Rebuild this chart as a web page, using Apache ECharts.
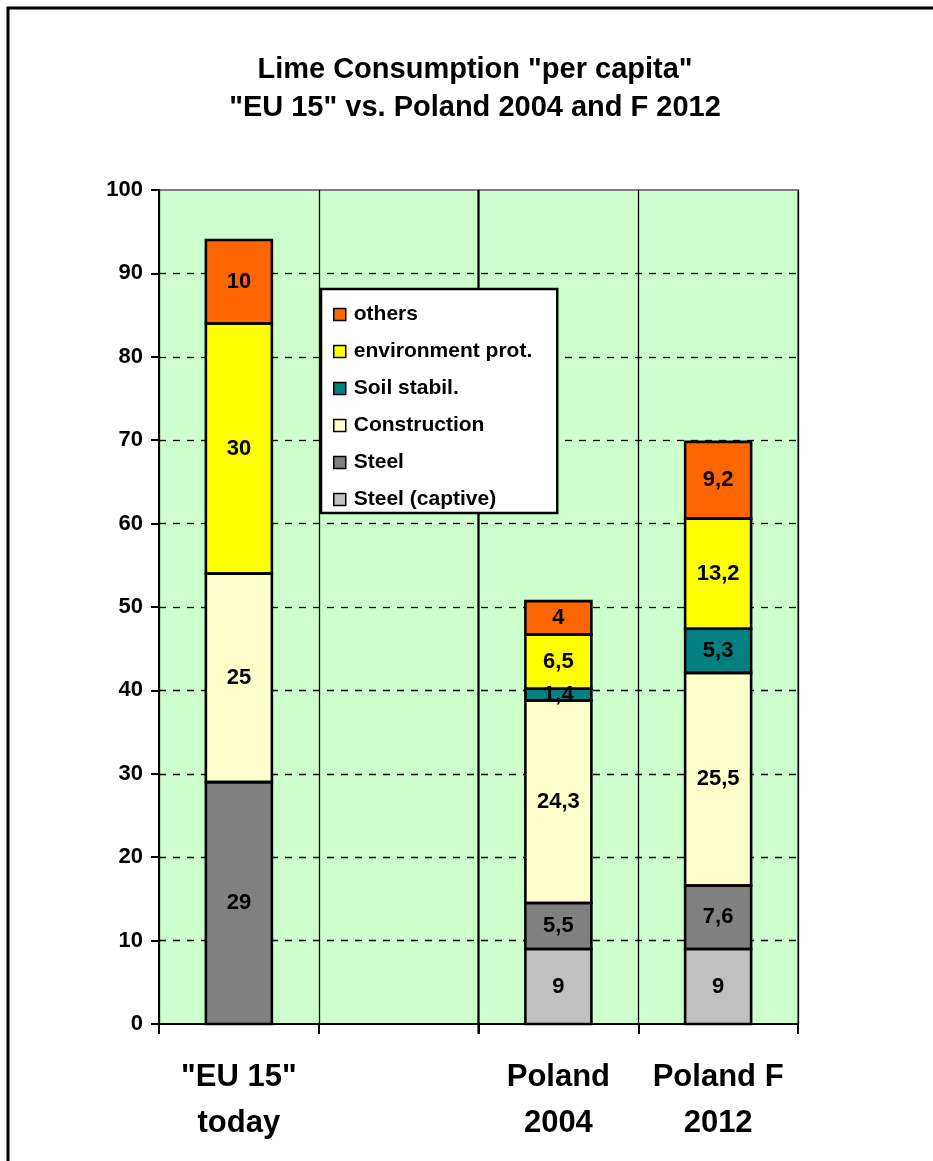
<!DOCTYPE html>
<html>
<head>
<meta charset="utf-8">
<script src="https://cdn.jsdelivr.net/npm/echarts@6/dist/echarts.min.js"></script>
<style>
  html, body { margin: 0; padding: 0; background: #ffffff; }
  #chart { width: 933px; height: 1161px; }
</style>
</head>
<body>
<div id="chart"></div>
<script>
// Categories along the x axis (the second slot is intentionally empty)
const categories = ['"EU 15"\ntoday', '', 'Poland\n2004', 'Poland F\n2012'];

// Lime consumption per capita, by use, stacked bottom to top
const steelCaptive  = [null, null, 9, 9];
const steel         = [29, null, 5.5, 7.6];
const construction  = [25, null, 24.3, 25.5];
const soilStabil    = [null, null, 1.4, 5.3];
const envProt       = [30, null, 6.5, 13.2];
const others        = [10, null, 4, 9.2];

const yTicks = [0, 10, 20, 30, 40, 50, 60, 70, 80, 90, 100];

const FONT = '"Liberation Sans", Arial, sans-serif';
const BAR_WIDTH = 66;

const seriesDefs = [
  { name: 'Steel (captive)',    data: steelCaptive, color: '#C0C0C0' },
  { name: 'Steel',              data: steel,        color: '#808080' },
  { name: 'Construction',       data: construction, color: '#FFFFCC' },
  { name: 'Soil stabil.',       data: soilStabil,   color: '#008080' },
  { name: 'environment prot.',  data: envProt,      color: '#FFFF00' },
  { name: 'others',             data: others,       color: '#FF6600' }
];

// Segment extents [category, from, to] for the shared black outlines,
// so neighbouring segments share a single border line.
const segments = [];
categories.forEach((_, ci) => {
  let base = 0;
  seriesDefs.forEach(s => {
    const v = s.data[ci];
    if (v != null) {
      segments.push([ci, base, base + v]);
      base += v;
    }
  });
});

const chart = echarts.init(document.getElementById('chart'), null, { renderer: 'canvas' });

const barSeries = seriesDefs.map(s => ({
  name: s.name,
  type: 'bar',
  stack: 'total',
  barWidth: BAR_WIDTH,
  data: s.data,
  itemStyle: { color: s.color, borderWidth: 0 },
  label: {
    show: true,
    position: 'inside',
    fontFamily: FONT,
    fontWeight: 'bold',
    fontSize: 22,
    color: '#000',
    formatter: p => (p.value == null ? '' : String(p.value).replace('.', ','))
  },
  z: 3
}));

const outlineSeries = {
  name: 'outline',
  type: 'custom',
  data: segments,
  encode: { x: 0, y: [1, 2] },
  silent: true,
  z: 4,
  renderItem: (params, api) => {
    const p0 = api.coord([api.value(0), api.value(1)]);
    const p1 = api.coord([api.value(0), api.value(2)]);
    return {
      type: 'rect',
      shape: {
        x: p0[0] - BAR_WIDTH / 2,
        y: p1[1],
        width: BAR_WIDTH,
        height: p0[1] - p1[1]
      },
      style: { fill: 'none', stroke: '#000', lineWidth: 2.6 }
    };
  }
};

chart.setOption({
  backgroundColor: '#ffffff',
  animation: false,
  title: {
    text: 'Lime Consumption "per capita"\n"EU 15" vs. Poland 2004 and F 2012',
    left: 470,
    top: 46,
    textAlign: 'center',
    textStyle: {
      fontFamily: FONT,
      fontWeight: 'bold',
      fontSize: 29,
      lineHeight: 38,
      color: '#000'
    }
  },
  legend: {
    data: ['others', 'environment prot.', 'Soil stabil.', 'Construction', 'Steel', 'Steel (captive)'],
    orient: 'vertical',
    left: 321,
    top: 289,
    backgroundColor: '#ffffff',
    borderColor: '#000',
    borderWidth: 2.5,
    padding: [15, 25, 3, 12],
    itemWidth: 12,
    itemHeight: 12,
    itemGap: 16,
    icon: 'rect',
    itemStyle: { borderColor: '#000', borderWidth: 1.5 },
    textStyle: {
      fontFamily: FONT,
      fontWeight: 'bold',
      fontSize: 21,
      lineHeight: 21,
      color: '#000',
      padding: [0, 0, 0, 3]
    },
    selectedMode: false
  },
  grid: {
    left: 159,
    top: 190,
    right: 135,
    bottom: 137,
    show: true,
    backgroundColor: '#CCFFCC',
    borderColor: '#808080',
    borderWidth: 2
  },
  xAxis: {
    type: 'category',
    data: categories,
    boundaryGap: true,
    axisLine: { lineStyle: { color: '#000', width: 2 } },
    axisTick: { show: true, interval: 0, length: 10, lineStyle: { color: '#000', width: 2 } },
    splitLine: { show: true, interval: 0, lineStyle: { color: '#000', width: 1.3 } },
    axisLabel: {
      interval: 0,
      hideOverlap: false,
      fontFamily: FONT,
      fontWeight: 'bold',
      fontSize: 31,
      lineHeight: 46,
      color: '#000',
      margin: 30
    }
  },
  yAxis: {
    type: 'value',
    min: yTicks[0],
    max: yTicks[yTicks.length - 1],
    interval: 10,
    axisLine: { show: true, lineStyle: { color: '#000', width: 2 } },
    axisTick: { show: true, length: 8, lineStyle: { color: '#000', width: 2 } },
    splitLine: {
      show: true,
      showMaxLine: false,
      showMinLine: false,
      lineStyle: { color: '#000', width: 1.3, type: [7, 7] }
    },
    axisLabel: {
      fontFamily: FONT,
      fontWeight: 'bold',
      fontSize: 22,
      color: '#000',
      margin: 16
    }
  },
  series: barSeries.concat([outlineSeries])
});

// Outer frame, and a heavier divider between the "EU 15" block and the Polish columns
const left1 = chart.convertToPixel({ xAxisIndex: 0 }, 1);
const left2 = chart.convertToPixel({ xAxisIndex: 0 }, 2);
const divX = (left1 + left2) / 2;
const yTop = chart.convertToPixel({ yAxisIndex: 0 }, yTicks[yTicks.length - 1]);
const yBot = chart.convertToPixel({ yAxisIndex: 0 }, yTicks[0]);

chart.setOption({
  graphic: [
    {
      type: 'rect',
      shape: { x: 8, y: 8, width: 960, height: 1200 },
      style: { fill: 'none', stroke: '#000', lineWidth: 3 },
      z: 100
    },
    {
      type: 'line',
      shape: { x1: divX, y1: yTop, x2: divX, y2: yBot + 10 },
      style: { stroke: '#000', lineWidth: 2.2 },
      z: 1
    }
  ]
});
</script>
</body>
</html>
